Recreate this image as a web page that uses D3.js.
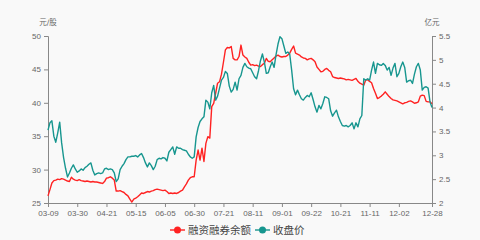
<!DOCTYPE html>
<html>
<head>
<meta charset="utf-8">
<script src="https://cdn.jsdelivr.net/npm/d3@7"></script>
<style>
  html, body { margin: 0; padding: 0; background: #f9f9f9; }
  svg { display: block; font-family: "DejaVu Sans", "Noto Sans CJK SC", sans-serif; }
  .axis text { fill: #666; font-size: 8px; }
  .axis path, .axis line { stroke: #888; }
</style>
</head>
<body>
<div id="chart"></div>
<script>
// 交易日序号上的刻度
const tickIdx = [0, 15, 30, 45, 60, 75, 90, 105, 120, 135, 150, 165, 180, 197];
const tickLbl = ["03-09", "03-30", "04-21", "05-15", "06-05", "06-30", "07-21",
                 "08-11", "09-01", "09-22", "10-21", "11-11", "12-02", "12-28"];

// 收盘价 (元/股)
const closePrice = [
  35.9, 37.0, 37.3, 35.0, 34.1, 35.5, 37.1, 34.0, 31.8, 30.2,
  28.9, 29.5, 30.2, 30.7, 30.1, 29.6, 29.8, 30.1, 29.9, 30.3,
  30.5, 30.8, 31.0, 29.9, 29.2, 29.4, 29.5, 29.4, 29.5, 30.1,
  30.2, 30.0, 30.1, 30.0, 29.5, 28.2, 28.6, 30.0, 30.5, 30.9,
  31.5, 31.9, 31.9, 32.0, 32.0, 32.1, 31.9, 32.2, 32.4, 31.8,
  31.0, 30.4, 31.0, 30.6, 30.0, 30.5, 31.5, 31.7, 31.6, 31.8,
  31.7, 31.3, 32.6, 33.0, 33.4, 32.3, 33.4, 33.2, 33.2, 33.0,
  32.9, 32.8, 32.3, 31.9, 31.7, 31.9, 34.9, 36.3, 37.2, 37.6,
  37.9, 40.4, 40.1, 39.1, 41.5, 42.6, 40.4, 41.0, 42.2, 43.4,
  43.8, 44.7, 44.4, 42.5, 41.6, 42.0, 43.1, 41.9, 43.6, 44.1,
  45.3, 45.9, 45.4, 45.2, 45.1, 44.5, 43.9, 43.6, 44.8, 46.3,
  47.3, 46.1, 44.4, 44.5, 45.4, 46.1, 45.3, 47.2, 48.8, 49.9,
  49.6, 48.5, 47.4, 47.6, 47.3, 44.9, 42.1, 41.2, 41.9, 41.2,
  40.6, 40.4, 40.8, 41.1, 40.9, 41.5, 40.5, 39.4, 38.6, 39.6,
  39.1, 39.9, 40.9, 40.8, 40.6, 38.8, 38.0, 38.5, 38.9, 37.9,
  37.2, 36.6, 36.5, 36.6, 36.4, 36.6, 37.0, 36.1, 37.0, 36.4,
  37.6, 38.1, 43.6, 43.4, 43.6, 43.4, 44.9, 46.1, 44.4, 45.9,
  45.7, 45.6, 45.9, 45.6, 44.9, 45.3, 44.1, 45.2, 45.9, 43.9,
  44.4, 45.4, 46.1, 45.3, 43.1, 43.3, 43.4, 42.9, 44.3, 45.4,
  45.9, 44.9, 41.9, 42.3, 42.4, 42.2, 40.1, 39.3
];

// 融资融券余额 (亿元)
const marginBal = [
  2.15, 2.28, 2.42, 2.47, 2.48, 2.50, 2.49, 2.51, 2.50, 2.48,
  2.46, 2.45, 2.54, 2.50, 2.48, 2.47, 2.49, 2.47, 2.46, 2.45,
  2.46, 2.45, 2.44, 2.45, 2.44, 2.44, 2.43, 2.42, 2.41, 2.45,
  2.52, 2.53, 2.55, 2.52, 2.48, 2.25, 2.25, 2.26, 2.24, 2.22,
  2.18, 2.15, 2.08, 2.02, 2.08, 2.10, 2.13, 2.17, 2.21, 2.20,
  2.22, 2.24, 2.23, 2.25, 2.26, 2.28, 2.29, 2.28, 2.27, 2.26,
  2.27, 2.24, 2.20, 2.21, 2.20, 2.21, 2.20, 2.22, 2.25, 2.27,
  2.34, 2.40, 2.48, 2.53, 2.55, 2.55, 2.90, 3.11, 2.90, 3.15,
  2.87, 3.25, 3.39, 3.36, 4.02, 4.09, 4.30, 4.51, 4.54, 4.70,
  4.95, 5.21, 5.26, 5.25, 5.28, 5.03, 5.00, 5.00, 5.07, 5.31,
  5.10, 5.06, 5.03, 4.95, 4.89, 4.90, 4.88, 4.89, 4.87, 4.86,
  4.90, 4.93, 5.03, 4.97, 4.96, 5.00, 5.04, 5.08, 5.10, 5.07,
  5.06, 5.07, 5.07, 5.10, 5.14, 5.22, 5.29, 5.14, 5.12, 5.10,
  5.06, 5.04, 5.03, 5.00, 5.02, 5.03, 5.00, 4.96, 4.85, 4.80,
  4.75, 4.76, 4.80, 4.82, 4.78, 4.75, 4.65, 4.63, 4.62, 4.61,
  4.62, 4.61, 4.60, 4.58, 4.59, 4.58, 4.57, 4.59, 4.61, 4.55,
  4.51, 4.49, 4.47, 4.58, 4.58, 4.55, 4.52, 4.40, 4.30, 4.19,
  4.21, 4.24, 4.28, 4.33, 4.28, 4.23, 4.19, 4.16, 4.15, 4.14,
  4.12, 4.10, 4.08, 4.10, 4.11, 4.13, 4.14, 4.12, 4.09, 4.10,
  4.12, 4.24, 4.26, 4.25, 4.13, 4.12, 4.12, 4.08
];

const leftTicks = [25, 30, 35, 40, 45, 50];
const rightTicks = [2, 2.5, 3, 3.5, 4, 4.5, 5, 5.5];

const width = 480, height = 240;
const m = { top: 36, right: 48, bottom: 37, left: 48 };
const red = "#ff2222", teal = "#17968f";

const svg = d3.select("#chart").append("svg")
    .attr("width", width)
    .attr("height", height);

const x = d3.scaleLinear()
    .domain([0, closePrice.length - 1])
    .range([m.left, width - m.right]);

const yL = d3.scaleLinear().domain([25, 50]).range([height - m.bottom, m.top]);
const yR = d3.scaleLinear().domain([2, 5.5]).range([height - m.bottom, m.top]);

// axes
svg.append("g")
    .attr("class", "axis")
    .attr("transform", `translate(0, ${height - m.bottom})`)
    .call(d3.axisBottom(x).tickValues(tickIdx).tickFormat((d, i) => tickLbl[i])
        .tickSizeOuter(0).tickSize(4).tickPadding(3));

svg.append("g")
    .attr("class", "axis")
    .attr("transform", `translate(${m.left}, 0)`)
    .call(d3.axisLeft(yL).tickValues(leftTicks).tickSizeOuter(0).tickSize(4).tickPadding(3));

svg.append("g")
    .attr("class", "axis")
    .attr("transform", `translate(${width - m.right}, 0)`)
    .call(d3.axisRight(yR).tickValues(rightTicks).tickFormat(d => String(d))
        .tickSizeOuter(0).tickSize(4).tickPadding(3));

// unit labels
svg.append("text")
    .attr("x", m.left)
    .attr("y", 25)
    .attr("text-anchor", "middle")
    .attr("font-size", "7.5px")
    .attr("fill", "#666")
    .text("元/股");

svg.append("text")
    .attr("x", width - m.right)
    .attr("y", 25)
    .attr("text-anchor", "middle")
    .attr("font-size", "7.5px")
    .attr("fill", "#666")
    .text("亿元");

// lines
const lineL = d3.line().x((d, i) => x(i)).y(d => yL(d));
const lineR = d3.line().x((d, i) => x(i)).y(d => yR(d));

svg.append("path")
    .datum(marginBal)
    .attr("fill", "none")
    .attr("stroke", red)
    .attr("stroke-width", 1.4)
    .attr("stroke-linejoin", "round")
    .attr("d", lineR);

svg.append("path")
    .datum(closePrice)
    .attr("fill", "none")
    .attr("stroke", teal)
    .attr("stroke-width", 1.4)
    .attr("stroke-linejoin", "round")
    .attr("d", lineL);

// legend
const legend = [
    { name: "融资融券余额", color: red, x: 170 },
    { name: "收盘价", color: teal, x: 255 }
];
const lg = svg.append("g").attr("class", "legend");
legend.forEach(d => {
    const g = lg.append("g").attr("transform", `translate(${d.x}, 230)`);
    g.append("line")
        .attr("x1", 0).attr("x2", 15)
        .attr("stroke", d.color).attr("stroke-width", 1.4);
    g.append("circle")
        .attr("cx", 7.5).attr("r", 3.5)
        .attr("fill", d.color);
    g.append("text")
        .attr("x", 18)
        .attr("dy", "0.36em")
        .attr("font-size", "10.5px")
        .attr("fill", "#444")
        .text(d.name);
});
</script>
</body>
</html>
